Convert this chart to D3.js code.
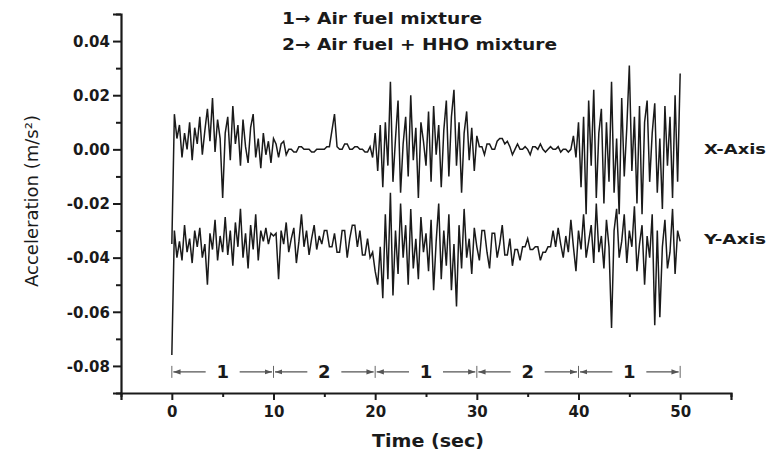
<!DOCTYPE html>
<html><head><meta charset="utf-8">
<script src="https://cdn.jsdelivr.net/npm/d3@7"></script>
<style>
html,body{margin:0;padding:0;background:#fff;}
svg{display:block;}
text{font-family:"DejaVu Sans",sans-serif;fill:#1a1a1a;}
</style></head>
<body>
<svg id="c" width="768" height="457"></svg>
<script>
const timeStep = 0.25;
const xAxisSeries = [
-0.035,0.013,0.004,0.009,-0.003,0.006,0.0,0.010,-0.004,0.008,0.002,0.012,-0.002,0.007,0.015,0.003,0.019,-0.001,0.011,0.004,
-0.018,0.006,0.012,-0.004,0.016,0.002,0.009,-0.006,0.011,0.001,-0.005,0.008,0.013,-0.003,0.004,-0.007,0.006,-0.002,0.003,-0.005,
0.004,0.002,-0.003,0.002,0.003,-0.002,0.000,0.000,-0.001,-0.001,0.001,0.001,0.000,0.000,0.000,-0.001,-0.001,0.000,0.000,0.000,
0.000,0.001,0.001,0.007,0.013,0.001,0.000,0.000,0.002,0.002,0.000,0.000,0.001,0.001,0.000,0.000,-0.001,-0.001,0.001,-0.003,
0.006,-0.008,0.009,-0.014,0.010,-0.006,0.025,-0.012,0.004,0.018,-0.016,0.002,0.012,-0.010,0.020,-0.004,0.008,-0.018,0.010,0.003,
-0.006,0.014,-0.012,0.016,-0.002,0.009,-0.014,0.007,0.018,-0.010,0.012,0.022,-0.006,0.010,-0.016,0.006,0.014,-0.004,0.008,-0.008,
0.005,0.001,0.001,-0.002,0.002,0.002,0.000,0.000,0.003,0.004,0.004,0.002,0.003,0.001,-0.002,0.000,0.002,0.000,0.000,0.001,
0.000,-0.002,0.001,0.001,0.000,0.002,0.000,-0.001,0.000,0.001,0.000,0.000,0.001,-0.001,0.000,0.000,-0.001,0.000,0.005,-0.003,
0.010,-0.014,0.012,-0.024,0.018,-0.006,0.022,-0.018,0.006,0.015,-0.020,0.010,-0.012,0.025,-0.016,0.004,-0.024,0.019,-0.010,0.008,
0.031,-0.008,0.012,-0.020,0.016,-0.024,0.010,0.018,-0.012,0.006,0.017,-0.016,0.004,-0.022,0.016,-0.006,0.012,-0.018,0.020,-0.012,
0.028];
const yAxisSeries = [
-0.076,-0.030,-0.040,-0.034,-0.041,-0.028,-0.038,-0.033,-0.042,-0.030,-0.036,-0.029,-0.040,-0.035,-0.050,-0.031,-0.037,-0.026,-0.041,-0.032,
-0.038,-0.025,-0.039,-0.030,-0.043,-0.027,-0.036,-0.022,-0.040,-0.031,-0.044,-0.028,-0.037,-0.024,-0.041,-0.030,-0.034,-0.029,-0.035,-0.031,
-0.032,-0.031,-0.048,-0.030,-0.035,-0.027,-0.038,-0.033,-0.029,-0.042,-0.034,-0.024,-0.036,-0.030,-0.039,-0.033,-0.028,-0.037,-0.032,-0.035,
-0.030,-0.030,-0.036,-0.036,-0.031,-0.038,-0.038,-0.030,-0.030,-0.040,-0.033,-0.028,-0.028,-0.036,-0.030,-0.039,-0.039,-0.033,-0.040,-0.038,
-0.045,-0.050,-0.036,-0.055,-0.024,-0.048,-0.016,-0.054,-0.030,-0.046,-0.020,-0.040,-0.028,-0.050,-0.022,-0.044,-0.033,-0.048,-0.025,-0.038,
-0.031,-0.045,-0.026,-0.052,-0.034,-0.020,-0.048,-0.030,-0.043,-0.024,-0.052,-0.035,-0.058,-0.028,-0.044,-0.022,-0.040,-0.033,-0.046,-0.029,
-0.036,-0.041,-0.030,-0.030,-0.038,-0.044,-0.031,-0.031,-0.040,-0.035,-0.028,-0.039,-0.039,-0.033,-0.043,-0.037,-0.037,-0.041,-0.036,-0.036,
-0.033,-0.037,-0.037,-0.036,-0.036,-0.041,-0.038,-0.038,-0.036,-0.036,-0.030,-0.036,-0.029,-0.035,-0.040,-0.032,-0.038,-0.026,-0.036,-0.045,
-0.030,-0.037,-0.024,-0.040,-0.034,-0.028,-0.042,-0.020,-0.038,-0.032,-0.044,-0.026,-0.036,-0.066,-0.030,-0.022,-0.040,-0.034,-0.024,-0.042,
-0.030,-0.036,-0.021,-0.045,-0.035,-0.028,-0.050,-0.032,-0.040,-0.024,-0.065,-0.030,-0.062,-0.036,-0.026,-0.044,-0.038,-0.022,-0.046,-0.030,
-0.034];
const seriesNames = ["X-Axis","Y-Axis"];
const seriesLabelValues = [0.0, -0.033];
const yMajorTicks = [0.04,0.02,0.00,-0.02,-0.04,-0.06,-0.08];
const yMinorTicks = [0.05,0.03,0.01,-0.01,-0.03,-0.05,-0.07,-0.09];
const xMajorTicks = [0,10,20,30,40,50];
const xMinorTicks = [-5,5,15,25,35,45,55];
const segBounds = [0,10,20,30,40,50];
const segLabels = ["1","2","1","2","1"];
const segRowValue = -0.0822;
const legendLines = ["1\u2192 Air fuel mixture","2\u2192 Air fuel + HHO mixture"];
const xTitle = "Time (sec)";
const yTitle = "Acceleration (m/s\u00B2)";

const svg = d3.select("#c");
const x = d3.scaleLinear().domain([-5,55]).range([121,731]);
const y = d3.scaleLinear().domain([-0.09,0.05]).range([393,14]);
const ink = "#1a1a1a";

// arrow marker
svg.append("defs").append("marker")
  .attr("id","ah").attr("viewBox","0 0 10 10").attr("refX",10).attr("refY",5)
  .attr("markerWidth",6).attr("markerHeight",6).attr("orient","auto-start-reverse")
  .append("path").attr("d","M0,1.5L10,5L0,8.5Z").attr("fill","#555");

// data lines
const line = d3.line().x((d,i)=>x(i*timeStep)).y(d=>y(d));
[yAxisSeries, xAxisSeries].forEach(s=>{
  svg.append("path").datum(s).attr("d",line)
    .attr("fill","none").attr("stroke",ink).attr("stroke-width",1.5)
    .attr("stroke-linejoin","miter");
});

const fmt = d => d.toFixed(2);
// y axis
const gy = svg.append("g").attr("transform",`translate(${x(-5)},0)`);
gy.call(d3.axisLeft(y).tickValues(yMajorTicks).tickSize(8).tickPadding(3).tickFormat(fmt));
gy.append("g").call(d3.axisLeft(y).tickValues(yMinorTicks).tickSize(5).tickFormat(""))
  .select(".domain").remove();
// x axis
const gx = svg.append("g").attr("transform",`translate(0,${y(-0.09)})`);
gx.call(d3.axisBottom(x).tickValues(xMajorTicks).tickSize(7).tickPadding(6).tickFormat(d3.format("d")));
gx.append("g").call(d3.axisBottom(x).tickValues(xMinorTicks).tickSize(4).tickFormat(""))
  .select(".domain").remove();
svg.selectAll(".domain").attr("stroke",ink).attr("stroke-width",2.2);
svg.selectAll(".tick line").attr("stroke",ink).attr("stroke-width",2);
svg.selectAll(".tick text").attr("font-family","DejaVu Sans").attr("font-weight","bold")
  .attr("font-size",15).attr("fill","#222");
gy.selectAll(".tick text").attr("dy","0.35em");

// axis titles
svg.append("text").attr("x",428).attr("y",447).attr("text-anchor","middle")
  .attr("font-size",18).attr("font-weight","bold").attr("textLength",112).attr("lengthAdjust","spacingAndGlyphs")
  .text(xTitle);
svg.append("text").attr("transform","translate(38,201) rotate(-90)").attr("text-anchor","middle")
  .attr("font-size",17).attr("textLength",172).attr("lengthAdjust","spacingAndGlyphs")
  .text(yTitle);

// legend
legendLines.forEach((t,i)=>{
  svg.append("text").attr("x",282).attr("y",24+i*26).attr("font-size",16).attr("font-weight","bold")
    .attr("textLength", i===0?200:275).attr("lengthAdjust","spacingAndGlyphs").text(t);
});

// series labels
seriesNames.forEach((n,i)=>{
  svg.append("text").attr("x",704).attr("y",y(seriesLabelValues[i])+5).attr("font-size",14).attr("font-weight","bold")
    .attr("textLength",62).attr("lengthAdjust","spacingAndGlyphs").text(n);
});

// segment annotation row
const ry = y(segRowValue);
const ann = svg.append("g");
segBounds.forEach(b=>{
  ann.append("line").attr("x1",x(b)).attr("x2",x(b)).attr("y1",ry-6).attr("y2",ry+6)
    .attr("stroke","#666").attr("stroke-width",1);
});
segLabels.forEach((l,i)=>{
  const a = segBounds[i], b = segBounds[i+1], m = (a+b)/2;
  ann.append("line").attr("x1",x(m)-17).attr("x2",x(a)+1.5).attr("y1",ry).attr("y2",ry)
    .attr("stroke","#555").attr("stroke-width",1.2).attr("marker-end","url(#ah)");
  ann.append("line").attr("x1",x(m)+17).attr("x2",x(b)-1.5).attr("y1",ry).attr("y2",ry)
    .attr("stroke","#555").attr("stroke-width",1.2).attr("marker-end","url(#ah)");
  ann.append("text").attr("x",x(m)).attr("y",ry+6.5).attr("text-anchor","middle")
    .attr("font-size",18).attr("font-weight","bold").attr("fill","#333").text(l);
});
</script>
</body></html>
